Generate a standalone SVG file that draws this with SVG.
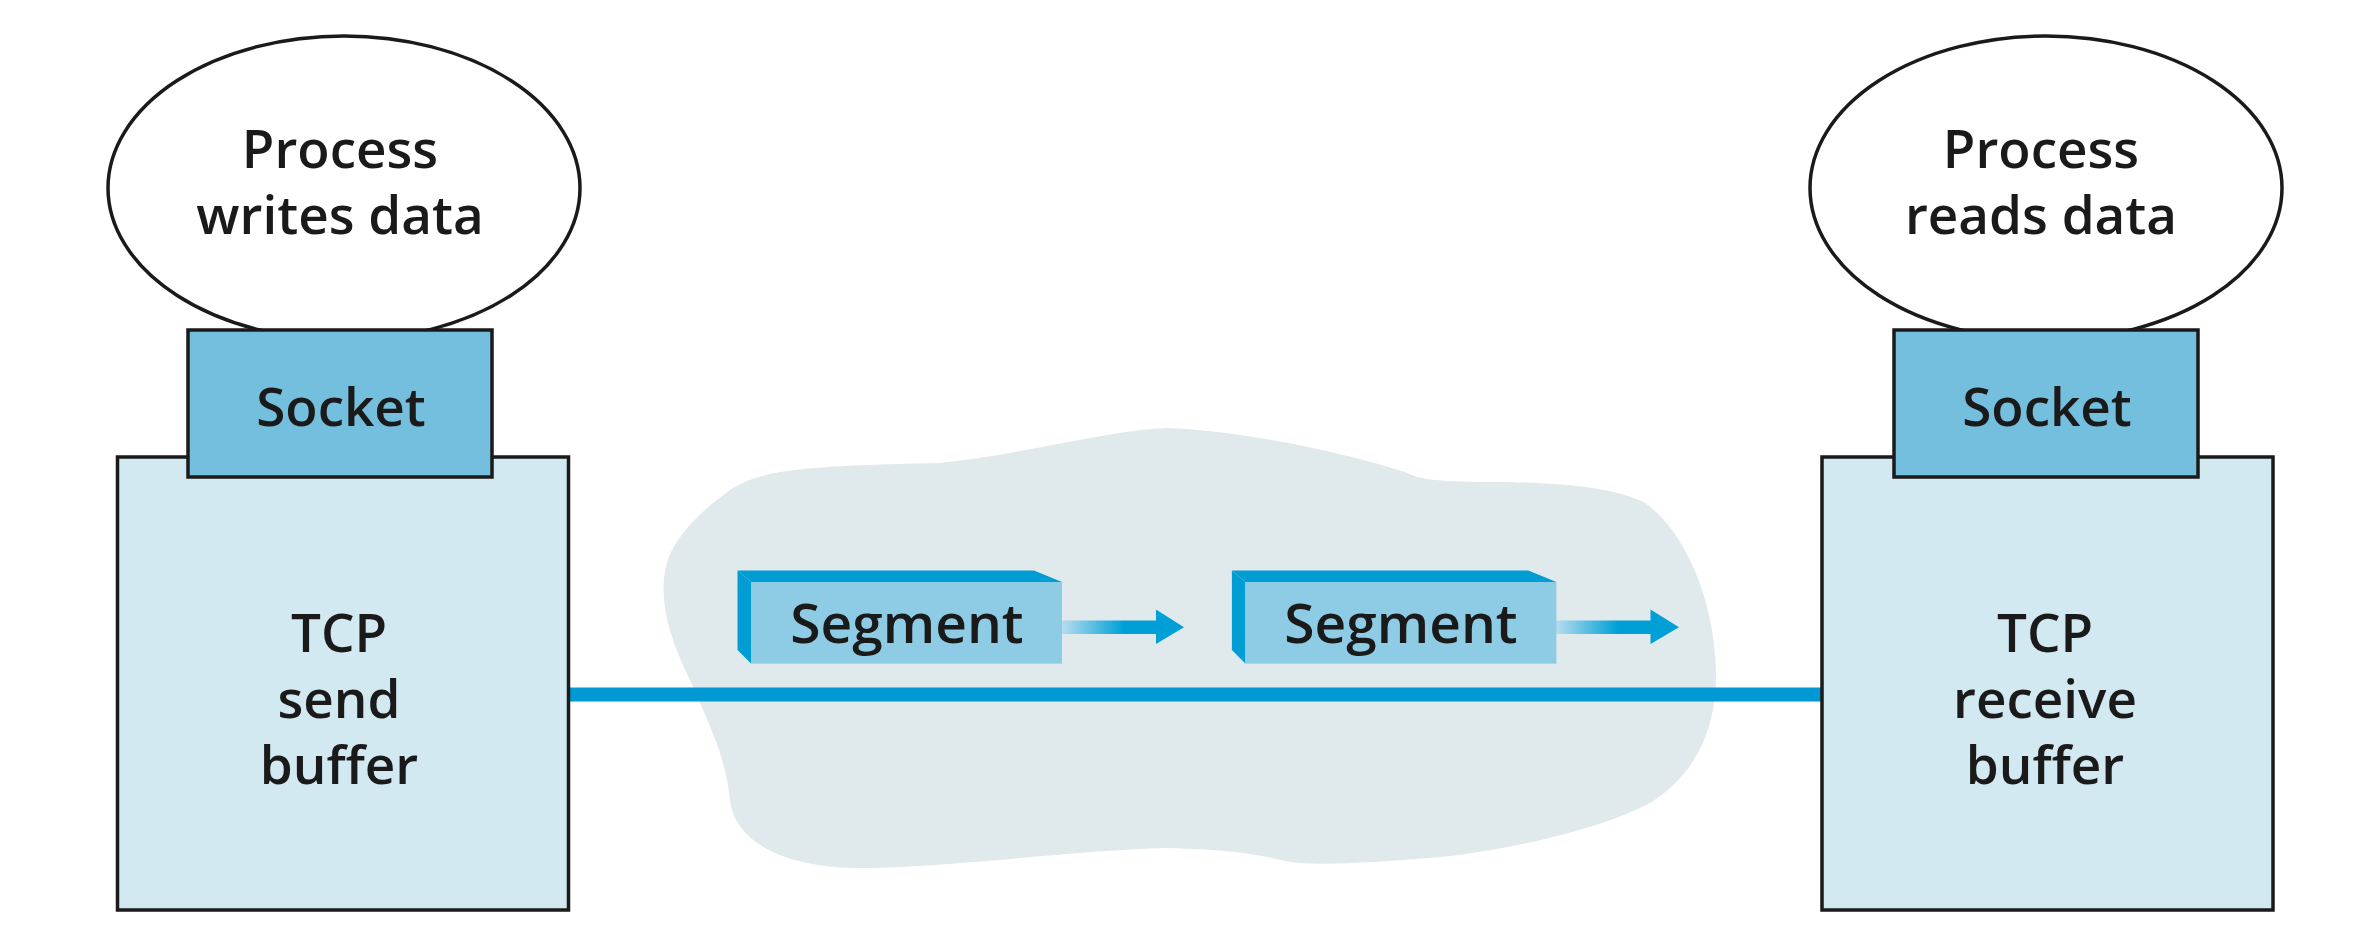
<svg xmlns="http://www.w3.org/2000/svg" width="2376" height="950" viewBox="0 0 2376 950">
  <style>
    .lbl { font-family: "Open Sans", "Noto Sans", "Liberation Sans", sans-serif; font-size: 53px; font-weight: 600; fill: #1a1a1a; text-anchor: middle; }
    .seg { font-family: "Open Sans", "Noto Sans", "Liberation Sans", sans-serif; font-size: 55px; font-weight: 600; fill: #1a1a1a; text-anchor: middle; }
    .proc { fill: #ffffff; stroke: #1a1a1a; stroke-width: 3.5; }
    .sock { fill: #74bede; stroke: #1a1a1a; stroke-width: 3.5; }
    .buf { fill: #d2e9f1; stroke: #1a1a1a; stroke-width: 3.5; }
    .front { fill: #8ecbe4; }
    .side { fill: #009dd5; }
    .wire { stroke: #0099d3; stroke-width: 14; fill: none; }
    .white { fill: #ffffff; }
    .headfill { fill: #009fd6; }
  </style>
  <defs>
    <linearGradient id="shaftGrad" x1="0" y1="0" x2="1" y2="0">
      <stop offset="0" stop-color="#b6ddee"/>
      <stop offset="0.65" stop-color="#00a0d6"/>
      <stop offset="1" stop-color="#009fd6"/>
    </linearGradient>
  </defs>

  <g id="network">
    <path fill="#e0e9ec" d="M 1166 428 C 1230 430, 1330 448, 1405 472 C 1420 480, 1440 482, 1500 482 C 1580 483, 1620 490, 1645 503 C 1690 535, 1716 610, 1716 676 C 1716 730, 1695 775, 1650 803 C 1600 830, 1500 852, 1430 858 C 1380 862, 1320 866, 1290 862 C 1270 858, 1250 850, 1166 848 C 1080 850, 960 866, 872 868 C 790 870, 735 845, 730 800 C 726 760, 712 730, 690 680 C 665 630, 655 585, 672 550 C 688 522, 710 505, 730 490 C 760 470, 800 466, 940 463 C 1020 455, 1110 430, 1166 428 Z"/>
  </g>

  <g id="connectors">
    <line class="wire" x1="569" y1="694.5" x2="1821" y2="694.5"/>
    <rect class="white" x="331.5" y="478" width="13.5" height="81"/>
    <polygon class="white" points="322,559 356,559 339,588"/>
    <rect class="white" x="2038" y="478" width="14" height="93"/>
    <rect x="1062" y="620.5" width="95" height="13.5" fill="url(#shaftGrad)"/>
    <polygon class="headfill" points="1156,609.5 1184,627.3 1156,644"/>
    <rect x="1556" y="620.5" width="95" height="13.5" fill="url(#shaftGrad)"/>
    <polygon class="headfill" points="1650.5,609.5 1679,627.3 1650.5,644"/>
  </g>

  <g id="send-process">
    <ellipse class="proc" cx="344" cy="188" rx="236" ry="152"/>
    <text class="lbl" x="340" y="168">Process</text>
    <text class="lbl" x="340" y="233.5">writes data</text>
  </g>

  <g id="send-buffer">
    <rect class="buf" x="117.5" y="457" width="451" height="453"/>
    <text class="lbl" x="339" y="652">TCP</text>
    <text class="lbl" x="339" y="718">send</text>
    <text class="lbl" x="339" y="783.5">buffer</text>
  </g>

  <g id="send-socket">
    <rect class="sock" x="188" y="330" width="304" height="147"/>
    <text class="lbl" x="341" y="426">Socket</text>
  </g>

  <g id="receive-process">
    <ellipse class="proc" cx="2046" cy="188" rx="236" ry="152"/>
    <text class="lbl" x="2041" y="168">Process</text>
    <text class="lbl" x="2041" y="233.5">reads data</text>
  </g>

  <g id="receive-buffer">
    <rect class="buf" x="1822" y="457" width="451" height="453"/>
    <text class="lbl" x="2045" y="652">TCP</text>
    <text class="lbl" x="2045" y="718">receive</text>
    <text class="lbl" x="2045" y="783.5">buffer</text>
  </g>

  <g id="receive-socket">
    <rect class="sock" x="1894" y="330" width="304" height="147"/>
    <text class="lbl" x="2047" y="426">Socket</text>
  </g>

  <g id="segment-1">
    <polygon class="side" points="737.5,570.4 1034,570.4 1062,582 751,582"/>
    <polygon class="side" points="737.5,570.4 751,582 751,663.6 737.5,650"/>
    <rect class="front" x="751" y="582" width="311" height="81.6"/>
    <text class="seg" x="907" y="643">Segment</text>
  </g>

  <g id="segment-2">
    <polygon class="side" points="1231.9,570.4 1528.4,570.4 1556.4,582 1245.4,582"/>
    <polygon class="side" points="1231.9,570.4 1245.4,582 1245.4,663.6 1231.9,650"/>
    <rect class="front" x="1245.4" y="582" width="311" height="81.6"/>
    <text class="seg" x="1401" y="643">Segment</text>
  </g>
</svg>
